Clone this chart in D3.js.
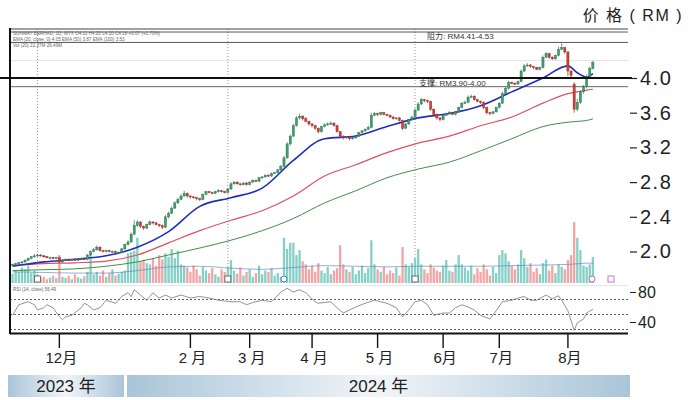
<!DOCTYPE html>
<html>
<head>
<meta charset="utf-8">
<script src="https://cdn.jsdelivr.net/npm/d3@7"></script>
<style>
  body { margin: 0; background: #fff; }
  svg { display: block; font-family: "Liberation Sans", Arial, sans-serif; }
  .cjk { font-family: "Liberation Sans", "Noto Sans CJK SC", sans-serif; }
</style>
</head>
<body>
<div id="chart"></div>
<script>
// candles, one per trading day (mid Nov 2023 -> mid Aug 2024)
var opens = [
  1.84,1.85,1.86,1.87,1.88,1.90,1.92,1.94,1.95,1.96,
  1.95,1.94,1.92,1.93,1.92,1.93,1.88,1.90,1.91,1.90,
  1.91,1.90,1.91,1.92,1.91,1.96,2.00,2.02,2.05,2.01,
  2.00,2.01,1.99,2.00,1.98,1.99,2.03,2.08,2.11,2.20,
  2.30,2.34,2.29,2.27,2.31,2.34,2.33,2.31,2.30,2.28,
  2.40,2.44,2.50,2.56,2.60,2.64,2.67,2.64,2.63,2.62,
  2.61,2.60,2.66,2.69,2.68,2.67,2.69,2.70,2.69,2.68,
  2.72,2.78,2.80,2.78,2.77,2.79,2.77,2.80,2.82,2.81,
  2.85,2.86,2.88,2.87,2.90,2.91,2.94,2.98,3.08,3.24,
  3.33,3.45,3.54,3.56,3.53,3.50,3.47,3.45,3.42,3.38,
  3.44,3.46,3.47,3.48,3.45,3.38,3.33,3.31,3.32,3.30,
  3.31,3.33,3.37,3.39,3.41,3.43,3.57,3.59,3.58,3.60,
  3.58,3.57,3.55,3.53,3.54,3.51,3.42,3.47,3.52,3.55,
  3.63,3.70,3.75,3.74,3.73,3.64,3.58,3.54,3.52,3.57,
  3.59,3.60,3.58,3.61,3.66,3.71,3.72,3.78,3.79,3.75,
  3.73,3.72,3.66,3.60,3.59,3.61,3.66,3.71,3.82,3.88,
  3.95,3.94,3.93,3.96,4.08,4.14,4.15,4.13,4.12,4.10,
  4.12,4.24,4.28,4.24,4.22,4.26,4.33,4.35,4.30,4.08,
  3.93,3.64,3.72,3.84,3.90,4.02,4.11];
var highs = [
  1.86,1.87,1.88,1.89,1.91,1.93,1.95,1.97,1.97,1.97,
  1.96,1.95,1.94,1.94,1.94,1.94,1.91,1.92,1.92,1.92,
  1.92,1.92,1.93,1.93,1.97,2.01,2.04,2.07,2.06,2.02,
  2.02,2.02,2.01,2.01,2.00,2.04,2.09,2.13,2.22,2.36,
  2.36,2.35,2.30,2.32,2.36,2.35,2.34,2.32,2.31,2.42,
  2.46,2.52,2.58,2.62,2.66,2.70,2.68,2.65,2.64,2.63,
  2.62,2.67,2.70,2.70,2.69,2.70,2.72,2.71,2.70,2.73,
  2.80,2.81,2.81,2.79,2.80,2.80,2.81,2.83,2.83,2.86,
  2.87,2.89,2.89,2.91,2.92,2.95,3.00,3.10,3.26,3.35,
  3.47,3.56,3.59,3.57,3.55,3.51,3.48,3.46,3.43,3.45,
  3.48,3.49,3.50,3.49,3.46,3.39,3.34,3.33,3.33,3.32,
  3.34,3.38,3.40,3.42,3.45,3.60,3.61,3.60,3.61,3.61,
  3.59,3.58,3.56,3.55,3.55,3.52,3.48,3.53,3.56,3.65,
  3.72,3.77,3.76,3.75,3.74,3.65,3.59,3.55,3.58,3.60,
  3.62,3.61,3.62,3.67,3.72,3.74,3.80,3.81,3.80,3.76,
  3.74,3.73,3.67,3.61,3.62,3.67,3.72,3.84,3.90,3.97,
  3.96,3.95,3.97,4.10,4.16,4.17,4.16,4.14,4.13,4.13,
  4.26,4.30,4.29,4.25,4.27,4.36,4.40,4.36,4.31,4.09,
  3.95,3.76,3.86,3.92,4.04,4.13,4.20];
var lows = [
  1.83,1.84,1.85,1.86,1.87,1.89,1.91,1.93,1.94,1.94,
  1.93,1.92,1.91,1.91,1.91,1.87,1.87,1.89,1.89,1.89,
  1.89,1.89,1.90,1.90,1.90,1.95,1.99,2.01,2.00,1.99,
  1.99,1.99,1.98,1.98,1.97,1.98,2.02,2.07,2.10,2.19,
  2.28,2.27,2.25,2.26,2.30,2.31,2.30,2.28,2.26,2.27,
  2.38,2.43,2.49,2.55,2.59,2.63,2.62,2.61,2.61,2.59,
  2.58,2.59,2.65,2.67,2.66,2.66,2.68,2.68,2.67,2.67,
  2.71,2.77,2.77,2.76,2.76,2.76,2.76,2.79,2.80,2.80,
  2.84,2.85,2.86,2.86,2.89,2.90,2.93,2.97,3.07,3.22,
  3.32,3.44,3.52,3.51,3.49,3.45,3.43,3.40,3.36,3.37,
  3.43,3.45,3.46,3.44,3.37,3.32,3.29,3.30,3.28,3.29,
  3.30,3.32,3.36,3.38,3.40,3.42,3.56,3.56,3.57,3.57,
  3.56,3.54,3.52,3.52,3.50,3.40,3.41,3.46,3.51,3.54,
  3.62,3.69,3.72,3.71,3.62,3.56,3.52,3.50,3.51,3.56,
  3.58,3.57,3.57,3.60,3.65,3.70,3.71,3.77,3.74,3.72,
  3.70,3.64,3.58,3.57,3.58,3.60,3.65,3.70,3.81,3.87,
  3.93,3.92,3.92,3.95,4.07,4.13,4.12,4.10,4.09,4.09,
  4.11,4.23,4.22,4.21,4.21,4.25,4.32,4.28,4.02,4.00,
  3.60,3.62,3.70,3.82,3.88,4.00,4.10];
var closes = [
  1.85,1.86,1.87,1.88,1.90,1.92,1.94,1.95,1.96,1.95,
  1.94,1.93,1.93,1.92,1.93,1.88,1.90,1.91,1.90,1.91,
  1.90,1.91,1.92,1.91,1.96,2.00,2.02,2.05,2.01,2.00,
  2.01,2.00,2.00,1.99,1.99,2.03,2.08,2.11,2.20,2.30,
  2.34,2.29,2.27,2.31,2.34,2.33,2.31,2.30,2.28,2.40,
  2.44,2.50,2.56,2.60,2.64,2.67,2.64,2.63,2.62,2.61,
  2.60,2.66,2.69,2.68,2.67,2.69,2.70,2.69,2.68,2.72,
  2.78,2.80,2.78,2.77,2.79,2.77,2.80,2.82,2.81,2.85,
  2.86,2.88,2.87,2.90,2.91,2.94,2.98,3.08,3.24,3.33,
  3.45,3.54,3.56,3.53,3.50,3.47,3.45,3.42,3.38,3.44,
  3.46,3.47,3.48,3.45,3.38,3.33,3.31,3.32,3.30,3.31,
  3.33,3.37,3.39,3.41,3.43,3.57,3.59,3.58,3.60,3.58,
  3.57,3.55,3.53,3.54,3.51,3.42,3.47,3.52,3.55,3.63,
  3.70,3.75,3.74,3.73,3.64,3.58,3.54,3.52,3.57,3.59,
  3.60,3.58,3.61,3.66,3.71,3.72,3.78,3.79,3.75,3.73,
  3.72,3.66,3.60,3.59,3.61,3.66,3.71,3.82,3.88,3.95,
  3.94,3.93,3.96,4.08,4.14,4.15,4.13,4.12,4.10,4.12,
  4.24,4.28,4.24,4.22,4.26,4.33,4.35,4.30,4.08,4.03,
  3.64,3.72,3.84,3.90,4.02,4.11,4.18];
// volume, relative units
var volumes = [
  15,20,18,25,22,28,16,20,14,8,
  10,6,9,12,8,45,10,8,12,6,
  14,9,7,11,18,45,14,18,12,20,
  10,16,22,12,15,18,20,48,50,52,
  73,35,38,32,30,40,28,45,38,48,
  42,55,40,52,30,28,25,18,28,22,
  12,26,20,16,24,14,10,22,18,25,
  37,20,15,25,12,18,22,10,16,28,
  14,20,18,24,12,16,10,73,55,65,
  65,45,53,35,30,22,28,18,32,20,
  16,26,14,20,24,61,30,22,18,26,
  14,20,28,16,24,69,30,22,18,26,
  14,20,16,25,12,58,30,26,32,40,
  55,30,22,16,30,25,20,18,28,37,
  20,18,30,45,30,25,20,28,14,24,
  18,30,22,12,26,16,45,53,48,35,
  28,22,30,53,40,26,32,18,24,14,
  32,38,20,28,16,30,26,22,37,45,
  98,73,53,28,26,30,42];

// moving averages read at these candle positions
var maIdx  = [0,10,20,30,40,50,60,70,80,90,100,110,120,130,140,150,160,170,178,181,184,186];
var ema20  = [1.83,1.88,1.91,1.95,2.05,2.23,2.52,2.62,2.73,3.05,3.30,3.33,3.44,3.54,3.59,3.68,3.84,4.00,4.14,4.06,4.01,4.05];
var ema50  = [1.84,1.86,1.87,1.89,1.96,2.10,2.24,2.36,2.47,2.64,2.87,3.00,3.14,3.25,3.33,3.45,3.55,3.71,3.82,3.84,3.86,3.87];
var ema100 = [1.78,1.79,1.80,1.83,1.88,1.96,2.04,2.13,2.24,2.38,2.56,2.70,2.85,2.95,3.03,3.16,3.30,3.44,3.49,3.50,3.51,3.53];
var volMA  = [18,17,16,16,20,26,27,24,22,25,28,27,26,27,27,27,28,29,30,31,32,32];

// RSI (14)
var rsiIdx = [0,2,5,7,8,10,11,13,15,16,17,19,22,23,24,26,28,30,33,35,37,38,39,41,43,45,47,49,51,54,57,60,63,66,70,73,75,77,80,83,86,88,90,92,94,97,98,102,104,106,110,113,116,118,120,123,125,127,129,131,133,135,138,140,142,144,146,148,150,153,155,157,160,162,164,166,168,171,173,175,176,178,180,181,183,184,186];
var rsiVal = [49,63,67,63,56,59,63,59,47,43,47,49,59,65,63,56,59,69,65,74,79,74,83,76,69,79,72,76,72,76,72,74,72,69,67,67,63,66,69,67,80,85,80,83,79,67,65,67,59,52,60,65,69,67,65,59,47,56,67,69,63,49,52,52,59,63,60,56,49,44,55,67,69,72,74,69,69,76,71,75,69,55,29,39,44,52,57];

// axis labels
var monthIdx = [15,57,76,96,117,138,156,178];
var monthLabels = ["12月","2 月","3 月","4 月","5 月","6月","7月","8月"];
var priceTicks = [2.0,2.4,2.8,3.2,3.6,4.0];
var rsiTicks = [80,40];
var rsiLevels = [70,50,30];
var resistance = [4.41,4.53];
var support = [3.90,4.00];
var eventIdx = [8,69,129];

var W = 690, H = 400;
var L = 10, R = 628, TOP = 29, VOLBASE = 283, AXY = 333;
var N = closes.length;

var svg = d3.select("#chart").append("svg")
    .attr("width", W).attr("height", H);

var x = d3.scaleBand().domain(d3.range(N)).range([11, 11 + 3.12*N]).padding(0);
var xc = function(i){ return x(i) + x.bandwidth()/2; };
var y = d3.scaleLinear().domain([2.0, 4.0]).range([251.5, 78]);
var yv = d3.scaleLinear().domain([0, 100]).range([VOLBASE, VOLBASE - 62]);
var yr = d3.scaleLinear().domain([40, 80]).range([322, 292]);

// title
svg.append("text").attr("class","cjk")
    .attr("x", 683).attr("y", 21).attr("text-anchor","end")
    .attr("font-size", 16).attr("fill","#222").attr("letter-spacing", 1.5)
    .text("价 格 ( RM )");

// faint gridline
svg.append("line").attr("x1", L).attr("x2", R)
    .attr("y1", y(4.2)).attr("y2", y(4.2))
    .attr("stroke", "#e2e2e2");

// dotted separators + event markers
svg.selectAll(".sep").data(eventIdx).enter().append("line")
    .attr("x1", function(d){ return xc(d); }).attr("x2", function(d){ return xc(d); })
    .attr("y1", TOP).attr("y2", VOLBASE)
    .attr("stroke", "#999").attr("stroke-dasharray", "1,2");

// volume
svg.selectAll(".vol").data(d3.range(N)).enter().append("rect")
    .attr("x", function(i){ return x(i) + 0.4; })
    .attr("width", x.bandwidth() - 0.8)
    .attr("y", function(i){ return yv(volumes[i]); })
    .attr("height", function(i){ return VOLBASE - yv(volumes[i]); })
    .attr("fill", function(i){ return closes[i] >= opens[i] ? "#86d0c6" : "#f3a5a5"; });

svg.append("path").datum(maIdx)
    .attr("d", d3.line().x(function(d){ return xc(d); })
        .y(function(d,k){ return yv(volMA[k]); }).curve(d3.curveMonotoneX))
    .attr("fill","none").attr("stroke","#5b7fc0").attr("stroke-width", 0.8)
    .attr("opacity", 0.8);

svg.selectAll(".ev").data(eventIdx).enter().append("rect")
    .attr("x", function(d){ return xc(d) - 3; }).attr("y", 276)
    .attr("width", 6).attr("height", 6)
    .attr("fill", "#fff").attr("stroke", "#555").attr("stroke-width", 0.8);
svg.append("circle").attr("cx", 284).attr("cy", 279).attr("r", 3)
    .attr("fill","#fff").attr("stroke","#5577cc");
svg.append("circle").attr("cx", 592).attr("cy", 279).attr("r", 3)
    .attr("fill","#fff").attr("stroke","#b070c0");
svg.append("rect").attr("x", 608).attr("y", 276).attr("width", 6).attr("height", 6)
    .attr("fill","#fff").attr("stroke","#d070d0");

// resistance / support zones
svg.selectAll(".res").data(resistance).enter().append("line")
    .attr("x1", L).attr("x2", R)
    .attr("y1", function(d){ return y(d); }).attr("y2", function(d){ return y(d); })
    .attr("stroke", "#555").attr("stroke-width", 1);
svg.append("line").attr("x1", L).attr("x2", R)
    .attr("y1", y(support[0])).attr("y2", y(support[0]))
    .attr("stroke", "#666").attr("stroke-width", 1);
svg.append("text").attr("class","cjk")
    .attr("x", 427).attr("y", 39).attr("font-size", 8).attr("fill", "#333")
    .text("阻力: RM4.41-4.53");
svg.append("text").attr("class","cjk")
    .attr("x", 419).attr("y", 86).attr("font-size", 8).attr("fill", "#333")
    .text("支撑: RM3.90-4.00");

// moving averages
function maLine(vals){
  return d3.line().x(function(d){ return xc(d); })
      .y(function(d,k){ return y(vals[k]); }).curve(d3.curveMonotoneX);
}
svg.append("path").datum(maIdx).attr("d", maLine(ema100))
    .attr("fill","none").attr("stroke","#3f8f46").attr("stroke-width", 1);
svg.append("path").datum(maIdx).attr("d", maLine(ema50))
    .attr("fill","none").attr("stroke","#e0505e").attr("stroke-width", 1.2);
svg.append("path").datum(maIdx).attr("d", maLine(ema20))
    .attr("fill","none").attr("stroke","#1f2fb8").attr("stroke-width", 1.6);

// candles
var cg = svg.append("g");
cg.selectAll(".wick").data(d3.range(N)).enter().append("line")
    .attr("x1", xc).attr("x2", xc)
    .attr("y1", function(i){ return y(highs[i]); })
    .attr("y2", function(i){ return y(lows[i]); })
    .attr("stroke", function(i){ return closes[i] >= opens[i] ? "#2f6e4e" : "#8e2b25"; })
    .attr("stroke-width", 0.7);
cg.selectAll(".body").data(d3.range(N)).enter().append("rect")
    .attr("x", function(i){ return xc(i) - 1.1; })
    .attr("width", 2.2)
    .attr("y", function(i){ return y(Math.max(opens[i], closes[i])); })
    .attr("height", function(i){ return Math.max(1, Math.abs(y(opens[i]) - y(closes[i]))); })
    .attr("fill", function(i){ return closes[i] >= opens[i] ? "#3f9e70" : "#cf3f36"; })
    .attr("stroke", function(i){ return closes[i] >= opens[i] ? "#2f6e4e" : "#8e2b25"; })
    .attr("stroke-width", 0.4);

// thick support line at 4.00
svg.append("line").attr("x1", 0).attr("x2", 632)
    .attr("y1", y(support[1])).attr("y2", y(support[1]))
    .attr("stroke", "#111").attr("stroke-width", 1.8);

// legend rows (tiny)
var leg = svg.append("g").attr("font-size", 4.6).attr("fill", "#666");
leg.append("text").attr("x", 13).attr("y", 35)
    .text("SUNWAY BERHAD, 1D, MYX   O4.11  H4.20  L4.10  C4.18  +0.07 (+1.70%)");
leg.append("text").attr("x", 13).attr("y", 41)
    .text("EMA (20, close, 0)  4.05    EMA (50)  3.87    EMA (100)  3.53");
leg.append("text").attr("x", 13).attr("y", 47)
    .text("Vol (20)  22.37M  26.49M");

// RSI panel
svg.append("line").attr("x1", L).attr("x2", R).attr("y1", 285.5).attr("y2", 285.5)
    .attr("stroke", "#e6e6e6");
svg.selectAll(".lvl").data(rsiLevels).enter().append("line")
    .attr("x1", L).attr("x2", R)
    .attr("y1", function(d){ return yr(d); }).attr("y2", function(d){ return yr(d); })
    .attr("stroke", "#333").attr("stroke-width", 0.8).attr("stroke-dasharray", "2,2");
svg.append("path").datum(rsiIdx)
    .attr("d", d3.line().x(function(d){ return xc(d); }).y(function(d,k){ return yr(rsiVal[k]); }))
    .attr("fill","none").attr("stroke","#777").attr("stroke-width", 0.8);
svg.append("text").attr("x", 13).attr("y", 291).attr("font-size", 4.6).attr("fill", "#666")
    .text("RSI (14, close)  56.49");

// frame
svg.append("line").attr("x1", L).attr("x2", R).attr("y1", TOP).attr("y2", TOP)
    .attr("stroke", "#444").attr("stroke-width", 1.2);
svg.append("line").attr("x1", L).attr("x2", L).attr("y1", TOP - 1).attr("y2", AXY + 1)
    .attr("stroke", "#111").attr("stroke-width", 2);

// price axis
var pa = svg.append("g").attr("transform", "translate(" + 630 + ",0)")
    .call(d3.axisRight(y).tickValues(priceTicks).tickSize(7).tickPadding(3)
        .tickFormat(d3.format(".1f")));
pa.select(".domain").remove();
pa.selectAll("line").attr("stroke", "#222").attr("stroke-width", 1.2);
pa.selectAll("text").attr("font-size", 20).attr("fill", "#222")
    .attr("letter-spacing", 1.5).attr("font-family", "Liberation Sans, Arial, sans-serif");

// rsi axis
var ra = svg.append("g").attr("transform", "translate(" + 630 + ",0)")
    .call(d3.axisRight(yr).tickValues(rsiTicks).tickSize(6).tickPadding(2));
ra.select(".domain").remove();
ra.selectAll("line").attr("stroke", "#222");
ra.selectAll("text").attr("font-size", 16).attr("fill", "#222")
    .attr("font-family", "Liberation Sans, Arial, sans-serif");

// month axis
var ma = svg.append("g").attr("transform", "translate(0," + AXY + ")")
    .call(d3.axisBottom(x).tickValues(monthIdx).tickSize(15).tickPadding(4)
        .tickFormat(function(d,k){ return monthLabels[k]; }));
ma.select(".domain").attr("d", "M" + L + ",0.5H" + R).attr("stroke", "#111").attr("stroke-width", 1.8);
ma.selectAll("line").attr("stroke", "#111").attr("stroke-width", 1.4);
ma.selectAll("text").attr("class","cjk").attr("font-size", 15).attr("fill", "#222")
    .attr("dx", 2);

// year bar
var defs = svg.append("defs");
var grad = defs.append("linearGradient").attr("id", "yr");
grad.append("stop").attr("offset", "0%").attr("stop-color", "#a9c5d9");
grad.append("stop").attr("offset", "50%").attr("stop-color", "#f1f5f8");
grad.append("stop").attr("offset", "100%").attr("stop-color", "#a9c5d9");
var years = [{t: "2023 年", x0: 8, x1: 124}, {t: "2024 年", x0: 127, x1: 630}];
svg.selectAll(".ybar").data(years).enter().append("rect")
    .attr("x", function(d){ return d.x0; }).attr("y", 375)
    .attr("width", function(d){ return d.x1 - d.x0; }).attr("height", 22)
    .attr("fill", "url(#yr)");
svg.selectAll(".ytxt").data(years).enter().append("text").attr("class","cjk")
    .attr("x", function(d){ return (d.x0 + d.x1)/2; }).attr("y", 392)
    .attr("text-anchor", "middle").attr("font-size", 17).attr("fill", "#222")
    .text(function(d){ return d.t; });
</script>
</body>
</html>
